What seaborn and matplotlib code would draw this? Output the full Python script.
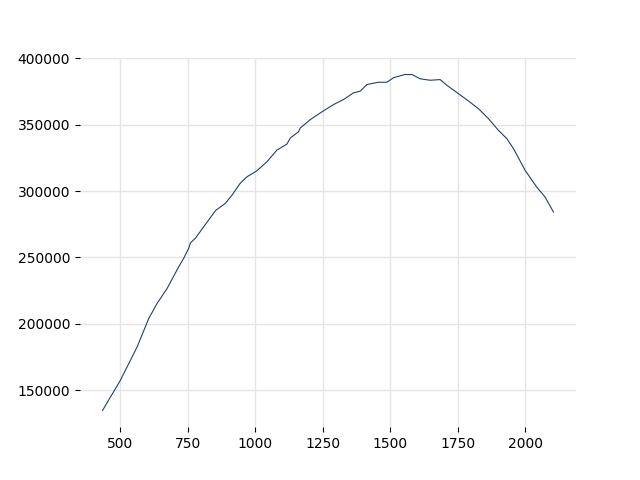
import pandas as pd
import matplotlib
matplotlib.use("Agg")
import matplotlib.pyplot as plt
import seaborn as sns

# valores
x_vals = [434, 500, 562, 605, 636, 673, 716, 735, 753, 760, 778, 810, 853, 889,
          914, 944, 969, 1006, 1043, 1080, 1117, 1130, 1160, 1167, 1204, 1250,
          1290, 1327, 1364, 1389, 1414, 1457, 1488, 1512, 1556, 1574, 1580, 1611,
          1648, 1685, 1710, 1753, 1790, 1827, 1864, 1901, 1932, 1957, 2000, 2043,
          2074, 2105]
y_vals = [134900, 157500, 182600, 204000, 215400, 226600, 242900, 249500, 256800,
          261000, 264500, 273400, 285400, 290700, 297000, 305800, 310700, 315300,
          322000, 330800, 335300, 339950, 344600, 347500, 353800, 360000, 365100,
          368900, 373900, 375200, 380200, 381900, 381900, 385300, 387800, 387600,
          387800, 384500, 383400, 383900, 379600, 373300, 367800, 362000, 354500,
          345700, 339500, 331900, 315600, 303000, 295500, 284200]

df = pd.DataFrame({"x": x_vals, "y": y_vals})

fig, ax = plt.subplots(figsize=(6.4, 4.8), dpi=100)
sns.lineplot(data=df, x="x", y="y", ax=ax, color="#22406c", linewidth=0.8)

ax.grid(True, color="#e5e5e5", linewidth=1)
ax.set_axisbelow(True)
for s in ax.spines.values():
    s.set_visible(False)
ax.set_xlabel("")
ax.set_ylabel("")
ax.set_xticks([500, 750, 1000, 1250, 1500, 1750, 2000])
ax.set_yticks([150000, 200000, 250000, 300000, 350000, 400000])

fig.savefig("out.png", dpi=100)
